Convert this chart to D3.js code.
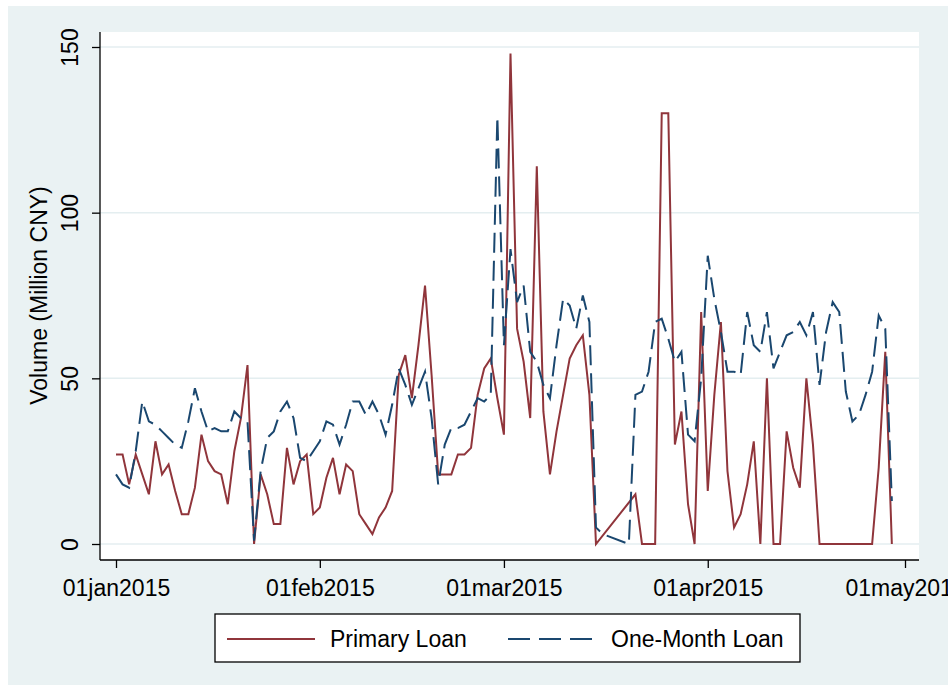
<!DOCTYPE html>
<html>
<head>
<meta charset="utf-8">
<script src="https://cdn.jsdelivr.net/npm/d3@7"></script>
<style>
  html, body { margin: 0; padding: 0; background: #ffffff; }
  svg { display: block; }
  text { font-family: "Liberation Sans", Arial, sans-serif; fill: #000; }
</style>
</head>
<body>
<svg id="chart" width="948" height="685"></svg>
<script>
// Daily interbank volumes, 1 Jan - 29 Apr 2015 (Million CNY); null = no observation
const dates = [
  "2015-01-01","2015-01-02","2015-01-03","2015-01-04","2015-01-05","2015-01-06","2015-01-07","2015-01-08",
  "2015-01-09","2015-01-10","2015-01-11","2015-01-12","2015-01-13","2015-01-14","2015-01-15","2015-01-16",
  "2015-01-17","2015-01-18","2015-01-19","2015-01-20","2015-01-21","2015-01-22","2015-01-23","2015-01-24",
  "2015-01-25","2015-01-26","2015-01-27","2015-01-28","2015-01-29","2015-01-30","2015-01-31",
  "2015-02-01","2015-02-02","2015-02-03","2015-02-04","2015-02-05","2015-02-06","2015-02-07","2015-02-08",
  "2015-02-09","2015-02-10","2015-02-11","2015-02-12","2015-02-13","2015-02-14","2015-02-15","2015-02-16",
  "2015-02-17","2015-02-18","2015-02-19","2015-02-20","2015-02-21","2015-02-22","2015-02-23","2015-02-24",
  "2015-02-25","2015-02-26","2015-02-27","2015-02-28",
  "2015-03-01","2015-03-02","2015-03-03","2015-03-04","2015-03-05","2015-03-06","2015-03-07","2015-03-08",
  "2015-03-09","2015-03-10","2015-03-11","2015-03-12","2015-03-13","2015-03-14","2015-03-15","2015-03-16",
  "2015-03-17","2015-03-18","2015-03-19","2015-03-20","2015-03-21","2015-03-22","2015-03-23","2015-03-24",
  "2015-03-25","2015-03-26","2015-03-27","2015-03-28","2015-03-29","2015-03-30","2015-03-31",
  "2015-04-01","2015-04-02","2015-04-03","2015-04-04","2015-04-05","2015-04-06","2015-04-07","2015-04-08",
  "2015-04-09","2015-04-10","2015-04-11","2015-04-12","2015-04-13","2015-04-14","2015-04-15","2015-04-16",
  "2015-04-17","2015-04-18","2015-04-19","2015-04-20","2015-04-21","2015-04-22","2015-04-23","2015-04-24",
  "2015-04-25","2015-04-26","2015-04-27","2015-04-28","2015-04-29"
];

const primaryLoan = [
  27, 27, 18, 27, 21, 15, 31, 21, 24, 16, 9, 9, 17, 33, 25, 22, 21, 12, 28, 38, 54, 0, 21, 15, 6, 6, 29, 18, 25, 27, 9,
  11, 20, 26, 15, 24, 22, 9, 6, 3, 8, 11, 16, 51, 57, 44, 60, 78, 51, 21, 21, 21, 27, 27, 29, 45, 53, 56, 44,
  33, 148, 65, 55, 38, 114, 40, 21, 34, 45, 56, 60, 63, 45, 0, null, null, null, null, null, 15, 0, 0, 0, 130, 130, 30, 40, 12, 0, 70,
  16, 45, 67, 22, 5, 9, 18, 31, 0, 50, 0, 0, 34, 23, 17, 50, 30, 0, 0, 0, 0, 0, 0, 0, 0, 0, 23, 58, 0
];

const oneMonthLoan = [
  21, 18, 17, 28, 43, 37, 36, 34, 32, 30, 29, 37, 47, 40, 34, 35, 34, 34, 40, 38, 37, 1, 22, 32, 34, 40, 43, 38, 26, 25, 28,
  31, 37, 36, 30, 36, 43, 43, 39, 43, 39, 33, 42, 53, 48, 42, 47, 52, 38, 18, 30, 35, 35, 36, 40, 44, 43, 45, 129,
  60, 89, 73, 78, 58, 55, 48, 44, 60, 74, 72, 65, 75, 67, 5, 3, null, null, null, 0, 45, 46, 52, 67, 68, 62, 55, 58, 33, 31, 50,
  87, 74, 64, 52, 52, 51, 70, 60, 58, 70, 53, 58, 63, 64, 67, 63, 70, 48, 64, 73, 70, 46, 37, 39, 45, 52, 69, 65, 13
];

const yTicks = [0, 50, 100, 150];
const xTickDates = ["2015-01-01", "2015-02-01", "2015-03-01", "2015-04-01", "2015-05-01"];
const xTickFormat = d3.timeFormat("%d%b%Y");

const seriesNames = ["Primary Loan", "One-Month Loan"];
const seriesColors = ["#90353B", "#1A476F"];

// ---- layout ----
const W = 948, H = 685;
const FONT = 23;
const plot = { left: 100, right: 919, top: 32, bottom: 560 };

const svg = d3.select("#chart");
const parse = d3.timeParse("%Y-%m-%d");

// outer graph region
svg.append("rect").attr("x", 8).attr("y", 6).attr("width", W - 8).attr("height", H - 6)
  .attr("fill", "#EAF2F3");
// plot region
svg.append("rect").attr("x", plot.left).attr("y", plot.top)
  .attr("width", plot.right - plot.left).attr("height", plot.bottom - plot.top)
  .attr("fill", "#ffffff");

const x = d3.scaleTime()
  .domain([parse("2015-01-01"), parse("2015-05-01")])
  .range([116, 905]);
const y = d3.scaleLinear().domain([0, 150]).range([544, 47]);

// horizontal gridlines
svg.append("g").selectAll("line").data(yTicks).join("line")
  .attr("x1", plot.left).attr("x2", plot.right)
  .attr("y1", d => y(d)).attr("y2", d => y(d))
  .attr("stroke", "#E4EEF0").attr("stroke-width", 1.5);

// series lines (Stata-style: connect across missing days)
const lineGen = d3.line().x(d => x(d.date)).y(d => y(d.v));
[primaryLoan, oneMonthLoan].forEach((vals, i) => {
  const pts = dates.map((s, k) => ({ date: parse(s), v: vals[k] })).filter(d => d.v !== null);
  svg.append("path").datum(pts)
    .attr("d", lineGen)
    .attr("fill", "none")
    .attr("stroke", seriesColors[i])
    .attr("stroke-width", 2)
    .attr("stroke-linejoin", "miter")
    .attr("stroke-dasharray", i === 1 ? "20,8" : null);
});

// y axis
const yAxis = svg.append("g").attr("transform", `translate(${plot.left},0)`)
  .call(d3.axisLeft(y).tickValues(yTicks).tickSize(8).tickPadding(0).tickFormat(d3.format("d")));
yAxis.select(".domain").attr("d", `M0,${plot.top}V${plot.bottom}`).attr("stroke", "#000").attr("stroke-width", 1.3);
yAxis.selectAll(".tick line").attr("stroke", "#000").attr("stroke-width", 1.3);
yAxis.selectAll(".tick text")
  .attr("x", null).attr("dy", null)
  .attr("text-anchor", "middle")
  .attr("transform", "translate(-22,0) rotate(-90)")
  .attr("y", 0)
  .style("font-size", FONT + "px")
  .style("font-family", "'Liberation Sans', Arial, sans-serif")
  .attr("fill", "#000");

// x axis
const xAxis = svg.append("g").attr("transform", `translate(0,${plot.bottom})`)
  .call(d3.axisBottom(x).tickValues(xTickDates.map(parse)).tickSize(8).tickPadding(10)
    .tickFormat(d => xTickFormat(d).toLowerCase()));
xAxis.select(".domain").attr("d", `M${plot.left},0H${plot.right}`).attr("stroke", "#000").attr("stroke-width", 1.3);
xAxis.selectAll(".tick line").attr("stroke", "#000").attr("stroke-width", 1.3);
xAxis.selectAll(".tick text")
  .attr("dy", null).attr("y", 36)
  .style("font-size", FONT + "px")
  .style("font-family", "'Liberation Sans', Arial, sans-serif")
  .attr("fill", "#000");

// y axis title
svg.append("text")
  .attr("transform", `translate(47,${(y(0) + y(150)) / 2}) rotate(-90)`)
  .attr("text-anchor", "middle")
  .style("font-size", FONT + "px")
  .text("Volume (Million CNY)");

// legend
const lg = svg.append("g");
lg.append("rect").attr("x", 215).attr("y", 614).attr("width", 585).attr("height", 48)
  .attr("fill", "#ffffff").attr("stroke", "#000").attr("stroke-width", 1.3);
const legendItems = [
  { key: [227, 315], textX: 330 },
  { key: [508, 594], textX: 611 }
];
legendItems.forEach((it, i) => {
  lg.append("line").attr("x1", it.key[0]).attr("x2", it.key[1]).attr("y1", 639).attr("y2", 639)
    .attr("stroke", seriesColors[i]).attr("stroke-width", 1.8)
    .attr("stroke-dasharray", i === 1 ? "22,9" : null);
  lg.append("text").attr("x", it.textX).attr("y", 647)
    .style("font-size", FONT + "px").text(seriesNames[i]);
});
</script>
</body>
</html>
